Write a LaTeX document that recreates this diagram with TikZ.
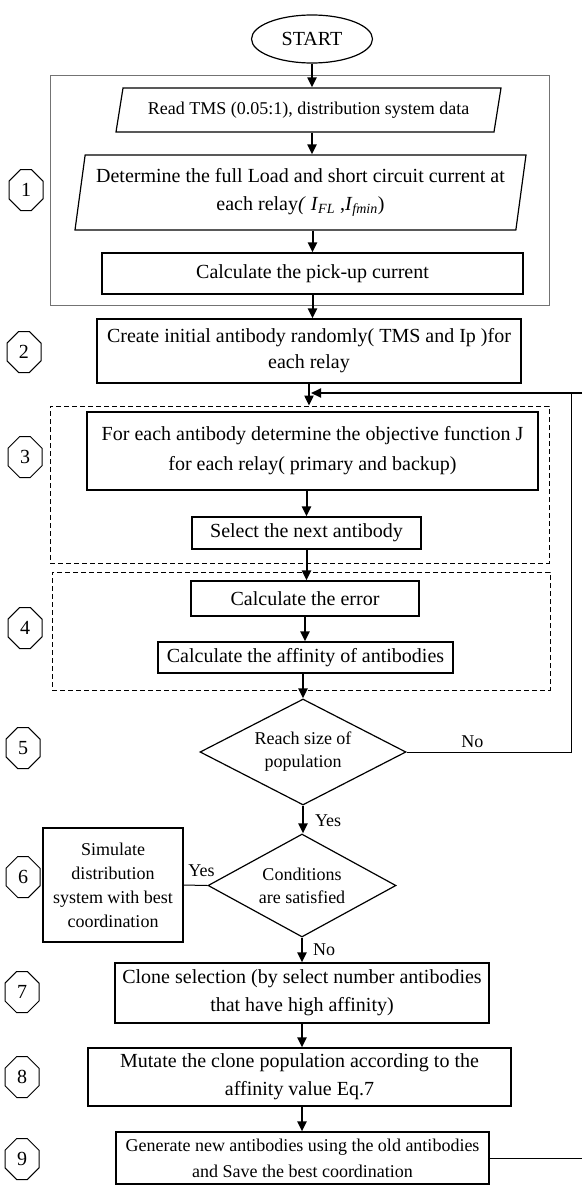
\documentclass[tikz,border=0pt]{standalone}
\usepackage{fontspec}
\setmainfont{Liberation Serif}
\usetikzlibrary{arrows.meta,positioning,shapes.geometric,shapes.misc}
\newcommand{\bigtxt}{\fontsize{20}{28}\selectfont}
\newcommand{\smalltxt}{\fontsize{18}{24}\selectfont}
\tikzset{
	blk/.style={draw, line width=1.2pt, rectangle, align=center, inner sep=0pt, font=\bigtxt},
	io/.style={draw, line width=1.2pt, trapezium, trapezium stretches body, align=center, inner sep=2pt},
	dec/.style={draw, line width=1.2pt, diamond, align=center, inner sep=0pt, font=\smalltxt},
	tag/.style={draw, line width=1pt, chamfered rectangle, chamfered rectangle xsep=9pt, chamfered rectangle ysep=10pt, minimum width=34pt, minimum height=41pt, inner sep=0pt, font=\bigtxt},
	grp/.style={draw, rectangle, inner sep=0pt},
	grpdash/.style={grp, line width=0.8pt, dash pattern=on 5pt off 3pt},
	flow/.style={line width=2pt, -{Triangle[length=10pt,width=9pt]}},
	lbl/.style={font=\smalltxt, inner sep=1pt},
}

\begin{document}
\begin{tikzpicture}[x=1pt, y=-1pt]
			%%%%% START %%%%%
			\useasboundingbox (0,0) rectangle (582,1186);
			
			% group frames
			\node[grp, draw=black!55, line width=0.8pt, minimum width=499pt, minimum height=230pt] (g1) at (299.5, 190) {};
			\node[grpdash, minimum width=499pt, minimum height=157pt] (g3) at (299.5, 484.5) {};
			\node[grpdash, minimum width=498pt, minimum height=118pt] (g4) at (301, 631) {};
			
			% step numbers
			\node[tag] (n1) at (26, 190) {1};
			\node[tag] (n2) at (24, 352) {2};
			\node[tag] (n3) at (25, 457) {3};
			\node[tag] (n4) at (25, 628) {4};
			\node[tag] (n5) at (23, 748) {5};
			\node[tag] (n6) at (23, 877) {6};
			\node[tag] (n7) at (22, 992) {7};
			\node[tag] (n8) at (22, 1077) {8};
			\node[tag] (n9) at (22, 1159) {9};
			
			% main column
			\node[draw, line width=1.2pt, ellipse, minimum width=121pt, minimum height=48pt, inner sep=0pt, font=\bigtxt] (start) at (312, 39) {START};
			\node[io, font=\smalltxt, trapezium left angle=71, trapezium right angle=109, minimum width=385pt, minimum height=44pt] (p1) at (308.5, 110) {Read TMS (0.05:1), distribution system data};
			\node[io, font=\bigtxt, trapezium left angle=79, trapezium right angle=101, minimum width=451pt, minimum height=75pt] (p2) at (300.5, 192.5) {Determine the full Load and short circuit current at\\each relay\textit{(} \textit{I}\textsubscript{\textit{FL}} ,\textit{I}\textsubscript{\textit{fmin}})};
			\node[blk, minimum width=421pt, minimum height=41pt] (pick) at (312.5, 273.5) {Calculate the pick-up current};
			\node[blk, minimum width=424pt, minimum height=64pt, font=\fontsize{20}{26}\selectfont] (create) at (309, 351) {Create initial antibody randomly( TMS and Ip )for\\each relay};
			\node[blk, minimum width=451pt, minimum height=78pt, font=\fontsize{20}{30}\selectfont] (forrel) at (312.5, 451) {For each antibody determine the objective function J\\for each relay( primary and backup)};
			\node[blk, minimum width=229pt, minimum height=32pt] (select) at (306.5, 533) {Select the next antibody};
			\node[blk, minimum width=228pt, minimum height=35pt] (err) at (305, 598.5) {Calculate the error};
			\node[blk, minimum width=295pt, minimum height=31pt] (aff) at (305.5, 657.5) {Calculate the affinity of antibodies};
			\node[dec, aspect=1.94, minimum width=206pt, minimum height=106pt, font=\fontsize{18}{23}\selectfont] (d1) at (303, 752) {Reach size of\\population};
			\node[dec, aspect=1.83, minimum width=188pt, minimum height=103pt, font=\fontsize{18}{23}\selectfont] (d2) at (302, 885.5) {Conditions\\are satisfied};
			\node[blk, minimum width=140pt, minimum height=114pt, font=\smalltxt] (sim) at (113, 885) {Simulate\\distribution\\system with best\\coordination};
			\node[blk, minimum width=374pt, minimum height=60pt] (clone) at (302, 993) {Clone selection (by select number antibodies\\that have high affinity)};
			\node[blk, minimum width=423pt, minimum height=58pt] (mutate) at (299.5, 1077) {Mutate the clone population according to the\\affinity value Eq.7};
			\node[blk, minimum width=373pt, minimum height=52pt, font=\fontsize{18}{26}\selectfont] (gen) at (302.5, 1158) {Generate new antibodies using the old antibodies\\and Save the best coordination};
			
			% loop-back points
			\coordinate (fbtop) at (571, 393);
			\coordinate (fbend) at (582, 393);
			
			% connectors
			\draw[flow] (start.south) -- (start.south |- p1.north);
			\draw[flow] (start.south |- p1.south) -- (start.south |- p2.north);
			\draw[flow] (pick.north |- p2.south) -- (pick.north);
			\draw[flow] (pick.south) -- (pick.south |- create.north);
			\draw[flow] (create.south) -- (create.south |- g3.north);
			\draw[flow] (fbend) -- ([xshift=2pt]create.south |- fbend);
			\draw[flow] (select.north |- forrel.south) -- (select.north);
			\draw[flow] (select.south) -- (select.south |- err.north);
			\draw[flow] (err.south) -- (err.south |- aff.north);
			\draw[flow] (d1.north |- aff.south) -- (d1.north);
			\draw[flow] (d1.south) -- node[lbl, right=10pt, pos=0.55] {Yes} (d1.south |- d2.north);
			\draw[flow] (d2.south) -- node[lbl, right=9pt, pos=0.5] {No} (d2.south |- clone.north);
			\draw[flow] (clone.south) -- (clone.south |- mutate.north);
			\draw[flow] (clone.south |- mutate.south) -- (clone.south |- gen.north);
			
			\draw[line width=1pt] (d1.east) -- node[lbl, above=3pt, pos=0.4] {No} (d1.east -| fbtop) -- (fbtop);
			\draw[line width=1pt] (d2.west) -- node[lbl, above=7pt, pos=0.25] {Yes} (sim.east);
			\draw[line width=1pt] (gen.east) -- (gen.east -| fbend);
			
			%%%%% END %%%%%
\end{tikzpicture}
\end{document}
